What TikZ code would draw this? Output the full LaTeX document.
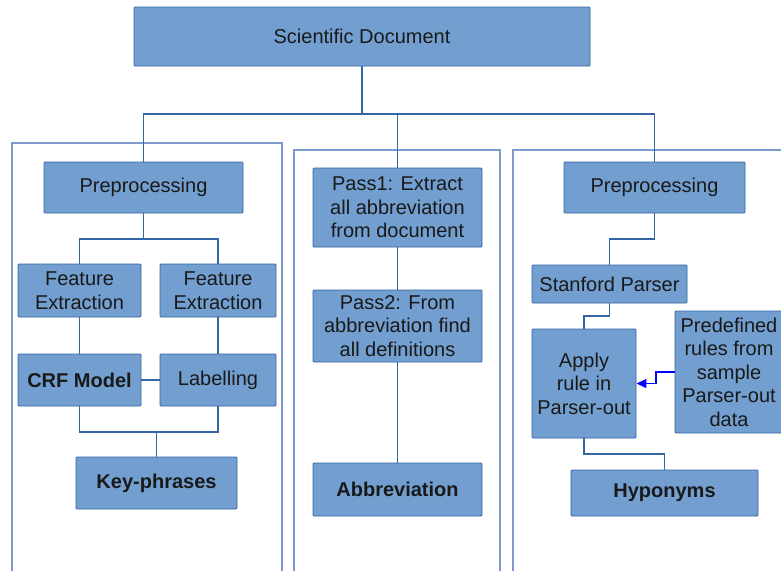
\documentclass[tikz,border=0pt]{standalone}
\usepackage{fontspec}
\setmainfont{Liberation Sans}
\usetikzlibrary{arrows.meta}
\definecolor{boxfill}{HTML}{729FCF}
\definecolor{boxline}{HTML}{3465A4}
\definecolor{framecol}{RGB}{125,155,205}
\tikzset{
  box/.style={draw=boxline, fill=boxfill, line width=0.9pt, rounded corners=1pt,
    inner sep=0pt, align=center, font=\fontsize{20}{23.5}\selectfont, text=black!90},
  bbox/.style={box, font=\fontsize{20}{23.5}\selectfont\bfseries},
  conn/.style={draw=boxline, line width=1.1pt},
  frameline/.style={draw=framecol, line width=1.6pt},
  bluearrow/.style={draw=blue, line width=1.3pt, -{Triangle[length=10pt,width=9pt]}}
}
\begin{document}
\begin{tikzpicture}[x=1pt,y=-1pt]
\useasboundingbox (0,0) rectangle (781,571);
% frames
\draw[frameline] (12,571) -- (12,143) -- (282,143) -- (282,571);
\draw[frameline] (294,571) -- (294,150) -- (500,150) -- (500,571);
\draw[frameline] (513,571) -- (513,150) -- (781,150);
% nodes
\node[box, minimum width=456pt, minimum height=59pt] (top) at (362,36.5) {Scientific Document};
\node[box, minimum width=199pt, minimum height=51pt] (prepL) at (143.5,187.5) {Preprocessing};
\node[box, minimum width=123pt, minimum height=53pt] (fe1) at (79.5,290.5) {Feature\\Extraction};
\node[box, minimum width=116pt, minimum height=53pt] (fe2) at (218,290.5) {Feature\\Extraction};
\node[bbox, minimum width=123pt, minimum height=52pt] (crf) at (79.5,380) {CRF Model};
\node[box, minimum width=116pt, minimum height=52pt] (lab) at (218,380) {Labelling};
\node[bbox, minimum width=161pt, minimum height=52pt] (key) at (156.5,483) {Key-phrases};
\node[box, minimum width=169pt, minimum height=79pt] (pass1) at (397.5,207.5) {Pass1: Extract\\all abbreviation\\from document};
\node[box, minimum width=169pt, minimum height=72pt] (pass2) at (397.5,326) {Pass2: From\\abbreviation find\\all definitions};
\node[bbox, minimum width=169pt, minimum height=53pt] (abbr) at (397.5,489.5) {Abbreviation};
\node[box, minimum width=181pt, minimum height=51pt] (prepR) at (654.5,187.5) {Preprocessing};
\node[box, minimum width=155pt, minimum height=38pt] (stan) at (609.5,284) {Stanford Parser};
\node[box, minimum width=104pt, minimum height=109pt] (apply) at (584,383.5) {Apply\\rule in\\Parser-out};
\node[box, minimum width=108pt, minimum height=122pt] (predef) at (729,372) {Predefined\\rules from\\sample\\Parser-out\\data};
\node[bbox, minimum width=187pt, minimum height=46pt] (hyp) at (664.5,493) {Hyponyms};
% junctions
\coordinate (j0) at (362,114);
\coordinate (j1) at (143.5,239);
\coordinate (j2) at (156.5,432);
\coordinate (j3) at (654.5,239);
\coordinate (j4) at (609.5,316);
\coordinate (j5) at (584,454);
\coordinate (a1) at (656,372);
\coordinate (a2) at (656,383.5);
% connectors
\draw[conn] (top.south) -- (j0);
\draw[conn] (prepL.north) |- (j0) -| (prepR.north);
\draw[conn] (j0) -| (pass1.north);
\draw[conn] (prepL.south) -- (j1);
\draw[conn] (fe1.north) |- (j1) -| (fe2.north);
\draw[conn] (fe1) -- (crf);
\draw[conn] (fe2) -- (lab);
\draw[conn] (crf) -- (lab);
\draw[conn] (crf.south) |- (j2) -| (lab.south);
\draw[conn] (j2) -- (key.north);
\draw[conn] (pass1) -- (pass2);
\draw[conn] (pass2) -- (abbr);
\draw[conn] (prepR.south) -- (j3) -| (stan.north);
\draw[conn] (stan.south) -- (j4) -| (apply.north);
\draw[conn] (apply.south) -- (j5) -| (hyp.north);
\draw[bluearrow] (predef.west) -- (a1) -- (a2) -- (apply.east);
\end{tikzpicture}
\end{document}
